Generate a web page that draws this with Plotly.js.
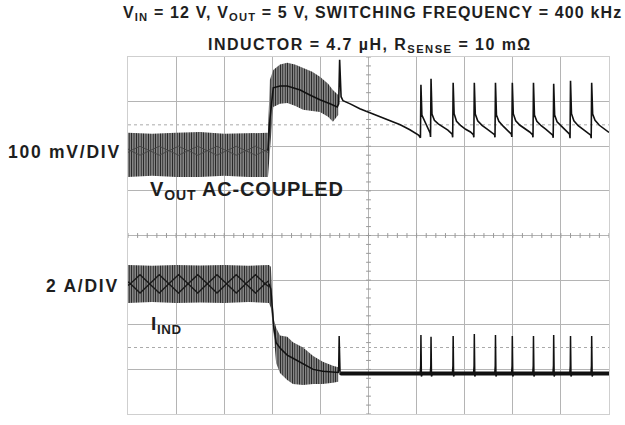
<!DOCTYPE html>
<html><head><meta charset="utf-8">
<script src="https://cdn.plot.ly/plotly-3.0.1.min.js"></script>
<style>
html,body{margin:0;padding:0;background:#fff;}
#chart{width:625px;height:425px;}
.annotation[data-index="0"] text{letter-spacing:1.15px;}
.annotation[data-index="1"] text{letter-spacing:1.45px;}
.annotation[data-index="2"] text, .annotation[data-index="3"] text{letter-spacing:1.75px;}
.annotation[data-index="4"] text{letter-spacing:0.85px;}
.annotation[data-index="5"] text{letter-spacing:0.6px;}
</style></head><body><div id="chart"></div>
<script>
// Oscilloscope screen: time in divisions (0-10), amplitude in divisions (0-8)
// V_OUT ripple envelope (steady state + load-step region)
const voutBandT  = [0, 0.5, 1.0, 1.5, 2.0, 2.5, 2.91, 2.95, 3.02, 3.16, 3.31, 3.47, 3.64, 3.83, 3.99, 4.16, 4.26, 4.37];
const voutBandHi = [6.30, 6.28, 6.30, 6.32, 6.28, 6.30, 6.30, 7.49, 7.71, 7.83, 7.87, 7.83, 7.76, 7.67, 7.56, 7.40, 7.26, 7.15];
const voutBandLo = [5.31, 5.34, 5.31, 5.31, 5.34, 5.31, 5.31, 5.92, 6.88, 6.95, 6.97, 6.91, 6.82, 6.79, 6.77, 6.66, 6.55, 6.70];
// V_OUT beat pattern inside steady ripple
const beatT      = [0, 0.05, 0.25, 0.45, 0.65, 0.85, 1.05, 1.25, 1.45, 1.65, 1.85, 2.05, 2.25, 2.45, 2.65, 2.85, 2.91];
const voutBeatA  = [5.94, 5.90, 6.00, 5.90, 5.80, 5.90, 6.00, 5.90, 5.80, 5.90, 6.00, 5.90, 5.80, 5.90, 6.00, 5.90, 5.86];
const voutBeatB  = [5.86, 5.90, 5.80, 5.90, 6.00, 5.90, 5.80, 5.90, 6.00, 5.90, 5.80, 5.90, 6.00, 5.90, 5.80, 5.90, 5.94];
// V_OUT trace after the step (step, spike, decay, burst pulses)
const voutT = [2.91, 2.95, 3.02, 3.16, 3.31, 3.58, 3.78, 3.99, 4.20, 4.35, 4.38, 4.40, 4.43, 4.47, 4.62, 4.82, 5.03, 5.24, 5.45, 5.66, 5.86, 6.04,
  6.08, 6.09, 6.11, 6.15, 6.22, 6.28,
  6.29, 6.30, 6.32, 6.37, 6.45, 6.55, 6.65, 6.74,
  6.75, 6.76, 6.78, 6.83, 6.92, 7.02, 7.12, 7.18,
  7.19, 7.20, 7.22, 7.27, 7.36, 7.46, 7.56, 7.62,
  7.63, 7.64, 7.66, 7.71, 7.80, 7.90, 7.97,
  7.98, 7.99, 8.01, 8.06, 8.15, 8.25, 8.35, 8.41,
  8.42, 8.43, 8.45, 8.50, 8.59, 8.69, 8.79, 8.83,
  8.84, 8.85, 8.87, 8.92, 9.01, 9.11, 9.18,
  9.19, 9.20, 9.22, 9.27, 9.36, 9.46, 9.56, 9.62,
  9.63, 9.64, 9.66, 9.71, 9.80, 9.90, 10.0];
const voutY = [5.90, 6.60, 7.31, 7.35, 7.35, 7.26, 7.15, 7.04, 6.95, 6.88, 6.95, 7.94, 7.11, 7.02, 6.95, 6.84, 6.75, 6.66, 6.57, 6.48, 6.37, 6.25,
  6.19, 7.38, 6.70, 6.60, 6.45, 6.30,
  6.21, 7.51, 6.72, 6.58, 6.50, 6.43, 6.36, 6.27,
  6.20, 7.42, 6.73, 6.56, 6.46, 6.38, 6.32, 6.26,
  6.20, 7.42, 6.72, 6.57, 6.47, 6.39, 6.32, 6.26,
  6.20, 7.42, 6.70, 6.56, 6.45, 6.35, 6.27,
  6.21, 7.42, 6.73, 6.57, 6.47, 6.40, 6.32, 6.26,
  6.20, 7.42, 6.70, 6.56, 6.46, 6.38, 6.30, 6.25,
  6.19, 7.40, 6.70, 6.55, 6.45, 6.33, 6.27,
  6.18, 7.47, 6.73, 6.57, 6.46, 6.38, 6.31, 6.25,
  6.18, 7.42, 6.72, 6.58, 6.47, 6.38, 6.31];

// Inductor current ripple envelope (steady state + load-step region)
const iBandT  = [0, 0.5, 1.0, 1.5, 2.0, 2.5, 2.93, 2.97, 3.03, 3.08, 3.16, 3.31, 3.43, 3.64, 3.85, 4.05, 4.26, 4.37];
const iBandHi = [3.34, 3.32, 3.34, 3.33, 3.34, 3.32, 3.34, 3.30, 2.13, 1.93, 1.76, 1.73, 1.61, 1.49, 1.30, 1.17, 1.08, 1.05];
const iBandLo = [2.49, 2.51, 2.49, 2.50, 2.49, 2.51, 2.49, 2.38, 1.79, 1.14, 0.92, 0.76, 0.67, 0.65, 0.67, 0.67, 0.70, 0.72];
// Inductor current beat pattern
const iBeatT = [0, 0.05, 0.25, 0.45, 0.65, 0.85, 1.05, 1.25, 1.45, 1.65, 1.85, 2.05, 2.25, 2.45, 2.65, 2.85, 2.93];
const iBeatA = [2.96, 2.92, 3.12, 2.92, 2.71, 2.92, 3.12, 2.92, 2.71, 2.92, 3.12, 2.92, 2.71, 2.92, 3.12, 2.92, 2.85];
const iBeatB = [2.88, 2.92, 2.71, 2.92, 3.12, 2.92, 2.71, 2.92, 3.12, 2.92, 2.71, 2.92, 3.12, 2.92, 2.71, 2.92, 2.99];
// Inductor current after the step (fall, spike, burst pulses)
const iT = [2.93, 2.97, 3.03, 3.08, 3.16, 3.31, 3.43, 3.64, 3.85, 4.05, 4.26, 4.37, 4.38, 4.39, 4.41, 4.43,
  6.075, 6.085, 6.09, 6.10, 6.12,
  6.285, 6.295, 6.30, 6.31, 6.33,
  6.745, 6.755, 6.76, 6.77, 6.79,
  7.185, 7.195, 7.20, 7.21, 7.23,
  7.625, 7.635, 7.64, 7.65, 7.67,
  7.975, 7.985, 7.99, 8.00, 8.02,
  8.415, 8.425, 8.43, 8.44, 8.46,
  8.835, 8.845, 8.85, 8.86, 8.88,
  9.185, 9.195, 9.20, 9.21, 9.23,
  9.625, 9.635, 9.64, 9.65, 9.67, 10.0];
const iY = [2.92, 2.80, 1.95, 1.60, 1.48, 1.32, 1.25, 1.12, 1.00, 0.96, 0.94, 0.93, 1.00, 1.75, 0.88, 0.91,
  0.91, 1.08, 1.77, 0.84, 0.91,
  0.91, 1.08, 1.73, 0.84, 0.91,
  0.91, 1.08, 1.75, 0.84, 0.91,
  0.91, 1.08, 1.79, 0.84, 0.91,
  0.91, 1.08, 1.77, 0.84, 0.91,
  0.91, 1.08, 1.75, 0.84, 0.91,
  0.91, 1.08, 1.75, 0.84, 0.91,
  0.91, 1.08, 1.77, 0.84, 0.91,
  0.91, 1.08, 1.75, 0.84, 0.91,
  0.91, 1.08, 1.75, 0.84, 0.91, 0.91];
// Noisy baseline of the inductor current during burst mode
const iBaseT = [4.42, 10.0];
const iBaseY = [0.91, 0.91];

// Dotted channel reference levels
const refLevels = [6.48, 1.49];

const ink = '#111111';
const pattern = {shape: '|', fgcolor: '#1c1c1c', bgcolor: '#a9a9a9', size: 2.4, solidity: 0.5};

const traces = [
  {x: voutBandT, y: voutBandLo, mode: 'lines', line: {width: 0}, hoverinfo: 'skip'},
  {x: voutBandT, y: voutBandHi, mode: 'lines', line: {width: 0}, fill: 'tonexty', fillcolor: '#a9a9a9', fillpattern: pattern, hoverinfo: 'skip'},
  {x: beatT, y: voutBeatA, mode: 'lines', line: {color: '#444', width: 0.9}},
  {x: beatT, y: voutBeatB, mode: 'lines', line: {color: '#444', width: 0.9}},
  {x: voutT, y: voutY, mode: 'lines', line: {color: ink, width: 1.6}},
  {x: iBandT, y: iBandLo, mode: 'lines', line: {width: 0}, hoverinfo: 'skip'},
  {x: iBandT, y: iBandHi, mode: 'lines', line: {width: 0}, fill: 'tonexty', fillcolor: '#a9a9a9', fillpattern: pattern, hoverinfo: 'skip'},
  {x: iBeatT, y: iBeatA, mode: 'lines', line: {color: '#1a1a1a', width: 1.4}},
  {x: iBeatT, y: iBeatB, mode: 'lines', line: {color: '#1a1a1a', width: 1.4}},
  {x: iBaseT, y: iBaseY, mode: 'lines', line: {color: ink, width: 4}},
  {x: iT, y: iY, mode: 'lines', line: {color: ink, width: 1.5}}
];

// grid decorations: minor ticks on the centre cross, dotted reference lines
const shapes = [];
for (let k = 0; k <= 50; k++) {
  shapes.push({type: 'line', xref: 'x', yref: 'y', x0: k * 0.2, x1: k * 0.2, y0: 4 - 0.055, y1: 4 + 0.055, line: {color: '#999', width: 1}});
}
for (let k = 0; k <= 40; k++) {
  shapes.push({type: 'line', xref: 'x', yref: 'y', x0: 5 - 0.05, x1: 5 + 0.05, y0: k * 0.2, y1: k * 0.2, line: {color: '#999', width: 1}});
}
refLevels.forEach(v => shapes.push({type: 'line', xref: 'paper', yref: 'y', x0: 0, x1: 1, y0: v, y1: v, line: {color: '#aaa', width: 1, dash: 'dot'}, layer: 'below'}));

const font = {family: 'Liberation Sans, Arial, sans-serif', color: '#1e1e1e'};
function ann(text, x, y, size) {
  return {text: '<b>' + text + '</b>', xref: 'paper', yref: 'paper', x: x, y: y, xanchor: 'left', yanchor: 'middle', showarrow: false, borderpad: 0, align: 'left', font: Object.assign({size: size}, font)};
}

const layout = {
  width: 625, height: 425,
  margin: {l: 128, r: 16, t: 57, b: 11},
  paper_bgcolor: '#ffffff', plot_bgcolor: '#ffffff',
  showlegend: false,
  xaxis: {range: [0, 10], dtick: 1, tick0: 0, showgrid: true, gridcolor: '#b4b4b4', gridwidth: 1, zeroline: false, showticklabels: false, ticks: '', showline: true, mirror: true, linecolor: '#cfcfcf', linewidth: 1, fixedrange: true},
  yaxis: {range: [0, 8], dtick: 1, tick0: 0, showgrid: true, gridcolor: '#b4b4b4', gridwidth: 1, zeroline: false, showticklabels: false, ticks: '', showline: true, mirror: true, linecolor: '#cfcfcf', linewidth: 1, fixedrange: true},
  shapes: shapes,
  annotations: [
    ann('V<sub>IN</sub> = 12 V, V<sub>OUT</sub> = 5 V, SWITCHING FREQUENCY = 400 kHz', -0.0125, 1.123, 16),
    ann('INDUCTOR = 4.7 µH, R<sub>SENSE</sub> = 10 mΩ', 0.164, 1.0336, 16),
    ann('100 mV/DIV', -0.2516, 0.7325, 17.5),
    ann('2 A/DIV', -0.1726, 0.3585, 17.5),
    ann('V<sub>OUT</sub> AC-COUPLED', 0.0437, 0.626, 20),
    ann('I<sub>IND</sub>', 0.0457, 0.2507, 19)
  ]
};

Plotly.newPlot('chart', traces, layout, {displayModeBar: false, staticPlot: true});
</script></body></html>
